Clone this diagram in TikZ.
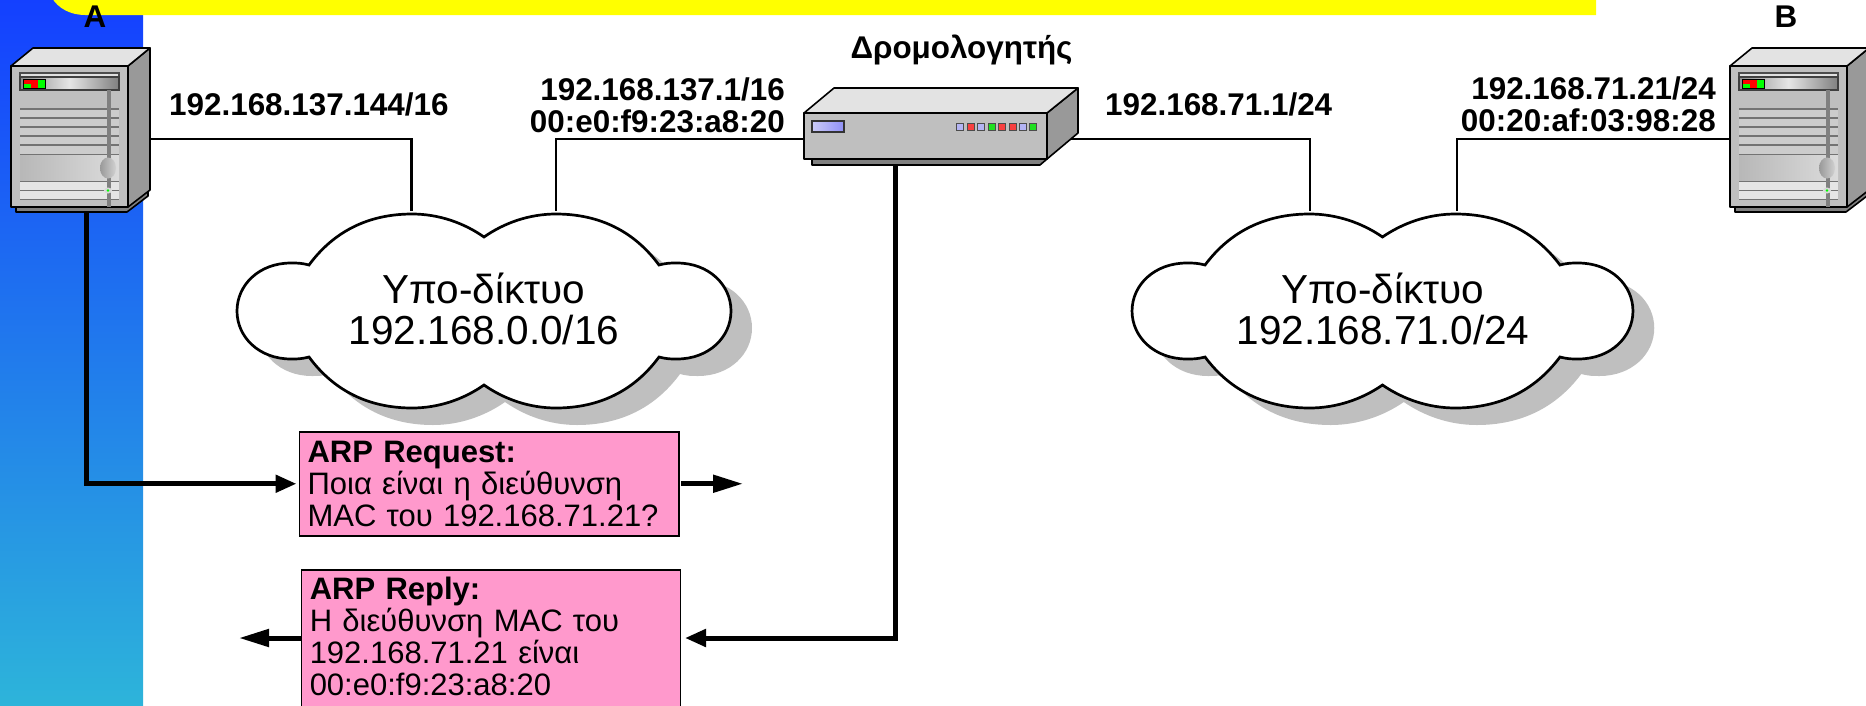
\documentclass[tikz,border=0pt]{standalone}
\usepackage{fontspec}
\setmainfont{Liberation Sans}
\usetikzlibrary{arrows.meta}
\pgfdeclarelayer{bg}
\pgfsetlayers{bg,main}
\definecolor{panelTop}{HTML}{1440FF}
\definecolor{panelBot}{HTML}{2DB4DA}
\definecolor{pinkbox}{HTML}{FF99CC}
\definecolor{ledblue}{HTML}{B4B4F4}
\definecolor{ledred}{HTML}{F84040}
\definecolor{ledgreen}{HTML}{20E020}
\definecolor{bannerYellow}{HTML}{FFFF00}
\definecolor{pureRed}{HTML}{FF0000}
\definecolor{pureGreen}{HTML}{00FF00}
\tikzset{
  thinlink/.style={draw=black,line width=2.7pt},
  thicklink/.style={draw=black,line width=5pt,line join=miter},
  tipped/.style={-{Triangle[length=21pt,width=17pt]}},
  longtipped/.style={-{Triangle[length=30pt,width=17pt]}},
  boldlabel/.style={font=\fontsize{31.4}{32}\selectfont\bfseries,inner sep=0pt,align=right},
  cloudtext/.style={font=\fontsize{40.5}{41}\selectfont,align=center,inner sep=0pt,minimum width=494pt,minimum height=194pt},
  msgbox/.style={draw=black,line width=1.5pt,fill=pinkbox,anchor=north west,align=left,inner xsep=8pt,inner ysep=0pt,
    font=\fontsize{31}{32}\selectfont},
  bodyline/.style={draw=black,line width=1.6pt,line join=round},
  slot/.style={draw=black!55,line width=1.3pt},
}
\newcommand{\cloudpath}{
  (-175,-46) .. controls (-150,-80) and (-115,-97) .. (-72,-97)
  .. controls (-45,-97) and (-20,-88) .. (0,-74)
  .. controls (20,-88) and (45,-97) .. (72,-97)
  .. controls (115,-97) and (150,-80) .. (175,-46)
  .. controls (183,-48) and (186,-48) .. (193,-48)
  .. controls (225,-48) and (247,-26) .. (247,0)
  .. controls (247,26) and (225,48) .. (193,48)
  .. controls (186,48) and (183,48) .. (175,46)
  .. controls (150,80) and (115,97) .. (72,97)
  .. controls (45,97) and (20,88) .. (0,74)
  .. controls (-20,88) and (-45,97) .. (-72,97)
  .. controls (-115,97) and (-150,80) .. (-175,46)
  .. controls (-183,48) and (-186,48) .. (-193,48)
  .. controls (-225,48) and (-247,26) .. (-247,0)
  .. controls (-247,-26) and (-225,-48) .. (-193,-48)
  .. controls (-186,-48) and (-183,-48) .. (-175,-46) -- cycle}
\newcommand{\cloudat}[3]{%
  \begin{scope}[shift={(#1,#2)},xscale=#3]
    \fill[black!25,shift={(21,17)}] \cloudpath;
    \draw[fill=white,line width=2.7pt] \cloudpath;
  \end{scope}}
\newcommand{\serverat}[1]{%
  \begin{scope}[shift={(#1,0)}]
    \filldraw[fill=black!50,bodyline] (16,207) -- (16,212) -- (127,212) -- (148,196) -- (148,190) -- cycle;
    \filldraw[fill=black!40,bodyline] (128,66) -- (150,48) -- (150,190) -- (128,207) -- cycle;
    \filldraw[fill=black!11,bodyline] (11,66) -- (33,48) -- (150,48) -- (128,66) -- cycle;
    \filldraw[fill=black!25,bodyline] (11,66) rectangle (128,207);
    \fill[black!20] (20,109) rectangle (119,155);
    \shade[left color=black!28,right color=black!14] (20,155) rectangle (119,181);
    \fill[black!10] (20,181) rectangle (119,200);
    \foreach \yy in {109,118,127,136,145,154.5,181.5,190.5,199.5}
      \draw[slot] (20,\yy) -- (119,\yy);
    \fill[black!12] (20,73) rectangle (119,77);
    \draw[black!70,line width=1.2pt] (20,73) rectangle (119,77);
    \shade[left color=black!45,right color=black!50,middle color=black!10] (20,77) rectangle (119,90);
    \draw[black!75,line width=1.2pt] (20,77) rectangle (119,90);
    \fill[black!50] (107,90) rectangle (110.5,207);
    \shade[left color=black!40,right color=black!18] (108,168) ellipse (8 and 10.5);
    \fill[black!15] (108,190.5) ellipse (4 and 3);
    \fill[pureGreen] (108,190.5) circle (1.3);
    \fill[pureRed] (23,79) rectangle (45,88);
    \fill[pureGreen] (38,79) rectangle (45,88);
    \fill[pureGreen] (23,84) rectangle (31,88);
    \draw[black,line width=1pt] (23,79) rectangle (45,88);
  \end{scope}}
\begin{document}
\begin{tikzpicture}[x=1pt,y=-1pt]
\useasboundingbox (0,0) rectangle (1866,705);
\clip (0,0) rectangle (1866,705);
% clouds
\cloudat{484}{311}{1}
\cloudat{1382.5}{311}{1.014}
\node[cloudtext] (cloudA) at (484,308.5) {Υπο-δίκτυο\\192.168.0.0/16};
\node[cloudtext] (cloudB) at (1383,308.5) {Υπο-δίκτυο\\192.168.71.0/24};
% servers
\serverat{0}
\serverat{1719}
\node[inner sep=0pt,minimum width=139pt,minimum height=164pt] (srvA) at (80.5,130) {};
\node[inner sep=0pt,minimum width=139pt,minimum height=164pt] (srvB) at (1799.5,130) {};
% router
\filldraw[fill=black!50,bodyline] (812,159) -- (812,165) -- (1040,165) -- (1047,159) -- cycle;
\filldraw[fill=black!40,bodyline] (1047,113) -- (1078,88) -- (1078,133) -- (1047,159) -- cycle;
\filldraw[fill=black!11,bodyline] (804,113) -- (834,88) -- (1078,88) -- (1047,113) -- cycle;
\filldraw[fill=black!25,bodyline] (804,113) rectangle (1047,159);
\shade[left color=ledblue!70!white,right color=ledblue!80!blue,draw=black!80,line width=1.2pt] (812,121) rectangle (844,132);
\foreach \xx/\cc in {960/ledblue,971/ledred,981/ledblue,992/ledgreen,1002/ledred,1013/ledred,1023/ledblue,1033/ledgreen}
  \filldraw[fill=\cc,draw=black!70,line width=1pt] (\xx-3.5,123.5) rectangle (\xx+3.5,130.5);
\node[inner sep=0pt,minimum width=274pt,minimum height=77pt] (router) at (941,126.5) {};
% message boxes
\node[msgbox,minimum width=379.5pt,minimum height=104pt,text width=363pt] (reqBox) at (298.5,431)
  {\textbf{ARP Request:}\\Ποια είναι η διεύθυνση\\MAC του 192.168.71.21?};
\node[msgbox,minimum width=379pt,minimum height=152pt,text width=362pt] (repBox) at (300.5,569)
  {\textbf{ARP Reply:}\\Η διεύθυνση MAC του\\192.168.71.21 είναι\\00:e0:f9:23:a8:20\rule[-19pt]{0pt}{19pt}};
% labels
\node[boldlabel,anchor=base west] (lblA) at (169,115) {192.168.137.144/16};
\node[boldlabel,anchor=base east] (lblR1) at (785,100) {192.168.137.1/16};
\node[boldlabel,anchor=base east] (lblR2) at (785,132) {00:e0:f9:23:a8:20};
\node[boldlabel,anchor=base west] (lblR3) at (1105,115) {192.168.71.1/24};
\node[boldlabel,anchor=base east] (lblB1) at (1716,99.5) {192.168.71.21/24};
\node[boldlabel,anchor=base east] (lblB2) at (1716,131.5) {00:20:af:03:98:28};
\node[boldlabel] (lblRouter) at (961.5,49.5) {Δρομολογητής};
\node[boldlabel] (nameA) at (95,17) {A};
\node[boldlabel] (nameB) at (1786,17) {B};
\coordinate (reqOut) at (743,483);
\coordinate (repOut) at (239,638);
\coordinate (repIn) at (685,638);
\begin{pgfonlayer}{bg}
  \shade[top color=panelTop,bottom color=panelBot] (0,0) rectangle (143,705);
  \fill[bannerYellow] (52,-2) .. controls (58,8) and (70,15) .. (85,15) -- (1596,15) -- (1596,-2) -- cycle;
  \draw[thinlink] (srvA.east |- 0,139) -| ([xshift=-72.5pt]cloudA.north);
  \draw[thinlink] (router.west |- 0,139) -| ([xshift=72pt]cloudA.north);
  \draw[thinlink] ([xshift=-8pt]router.east |- 0,139) -| ([xshift=-73pt]cloudB.north);
  \draw[thinlink] (srvB.west |- 0,139) -| ([xshift=74pt]cloudB.north);
\end{pgfonlayer}
\draw[thicklink,tipped,shorten >=2pt] (srvA.south -| 86,0) |- (reqBox.west);
\draw[thicklink,longtipped,shorten <=1.5pt] (reqBox.east) -- (reqBox.east -| reqOut);
\draw[thicklink,longtipped] (repBox.west |- repOut) -- (repOut);
\draw[thicklink,tipped] (router.south -| 895,0) |- (repIn);
\end{tikzpicture}
\end{document}
